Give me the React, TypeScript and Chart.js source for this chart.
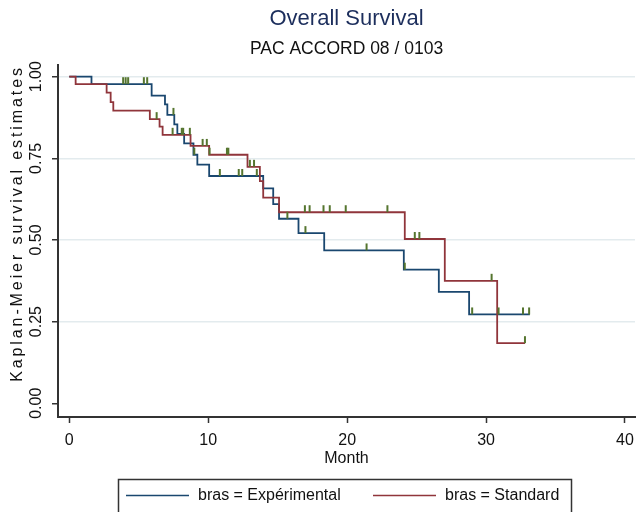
import React, { useEffect, useRef } from "react";
import { Chart, registerables } from "chart.js";

Chart.register(...registerables);

const FONT = "'Liberation Sans', Arial, sans-serif";

// Axis ticks
const xTicks = [0, 10, 20, 30, 40];
const yTicks = [0, 0.25, 0.5, 0.75, 1.0];

// Series labels
const expLabel = "bras = Expérimental";
const stdLabel = "bras = Standard";

// Expérimental arm (Kaplan-Meier step points: time at which survival changes)
const expTimes = [0, 1.6, 5.93, 6.89, 7.06, 7.56, 7.78, 8.27, 8.94, 9.22, 10.07, 13.96, 14.68, 15.1, 16.5, 18.35, 24.08, 26.6, 28.78];
const expSurv = [1.0, 0.977, 0.942, 0.915, 0.883, 0.854, 0.825, 0.796, 0.761, 0.731, 0.696, 0.658, 0.61, 0.565, 0.521, 0.468, 0.409, 0.341, 0.272];
const expEnd = 33.15;
const expCensor = [3.88, 4.06, 4.24, 5.37, 5.61, 7.5, 9.0, 10.84, 12.2, 12.45, 13.5, 15.7, 17.0, 21.4, 24.15, 29.0, 30.9, 32.66, 33.1];

// Standard arm
const stdTimes = [0, 0.46, 2.69, 2.98, 3.17, 5.8, 6.5, 6.72, 8.73, 10.07, 12.83, 13.72, 13.96, 15.1, 24.15, 27.03, 30.8];
const stdSurv = [1.0, 0.977, 0.951, 0.922, 0.896, 0.87, 0.847, 0.822, 0.788, 0.761, 0.724, 0.68, 0.63, 0.585, 0.503, 0.375, 0.184];
const stdEnd = 32.8;
const stdCensor = [6.29, 7.44, 8.1, 8.2, 8.68, 9.6, 9.9, 10.1, 11.35, 11.45, 13.0, 13.3, 16.96, 17.3, 18.3, 18.75, 19.9, 22.9, 24.87, 25.2, 30.4, 32.8];

const BLUE = "#1a476f";
const RED = "#90353b";
const GREEN = "#55752f";

function stepPoints(times: number[], surv: number[], end: number) {
  const pts = times.map((t, i) => ({ x: t, y: surv[i] }));
  pts.push({ x: end, y: surv[surv.length - 1] });
  return pts;
}

function survAt(times: number[], surv: number[], t: number) {
  let s = surv[0];
  for (let i = 0; i < times.length; i++) if (times[i] <= t) s = surv[i];
  return s;
}

const censorPlugin = {
  id: "censorTicks",
  afterDatasetsDraw(chart: any) {
    const { ctx, scales } = chart;
    const xs = scales.x;
    const ys = scales.y;
    const groups = [
      { times: expTimes, surv: expSurv, cens: expCensor },
      { times: stdTimes, surv: stdSurv, cens: stdCensor },
    ];
    ctx.save();
    ctx.strokeStyle = GREEN;
    ctx.lineWidth = 2;
    groups.forEach((g) => {
      g.cens.forEach((t) => {
        const px = xs.getPixelForValue(t);
        const py = ys.getPixelForValue(survAt(g.times, g.surv, t));
        ctx.beginPath();
        ctx.moveTo(px, py);
        ctx.lineTo(px, py - 7);
        ctx.stroke();
      });
    });
    ctx.restore();
  },
};

const decorPlugin = {
  id: "decor",
  afterDraw(chart: any) {
    const { ctx } = chart;
    ctx.save();
    // Y axis title with letter spacing
    ctx.fillStyle = "#111";
    ctx.font = `16px ${FONT}`;
    (ctx as any).letterSpacing = "2.9px";
    ctx.translate(18, 223.5);
    ctx.rotate(-Math.PI / 2);
    ctx.textAlign = "center";
    ctx.textBaseline = "middle";
    ctx.fillText("Kaplan-Meier survival estimates", 0, 0);
    ctx.restore();

    // Legend box
    ctx.save();
    ctx.strokeStyle = "#333";
    ctx.lineWidth = 1.5;
    ctx.strokeRect(118.5, 479.5, 453, 60);
    const items = [
      { ds: 0, x: 126 },
      { ds: 1, x: 373 },
    ];
    items.forEach((it) => {
      const ds = chart.data.datasets[it.ds];
      ctx.strokeStyle = ds.borderColor;
      ctx.lineWidth = 1.5;
      ctx.beginPath();
      ctx.moveTo(it.x, 495.5);
      ctx.lineTo(it.x + 63, 495.5);
      ctx.stroke();
      ctx.fillStyle = "#111";
      ctx.font = `16px ${FONT}`;
      ctx.textAlign = "left";
      ctx.textBaseline = "middle";
      ctx.fillText(ds.label, it.x + 72, 495.5);
    });
    ctx.restore();
  },
};

export default function App() {
  const ref = useRef<HTMLCanvasElement | null>(null);

  useEffect(() => {
    if (!ref.current) return;
    Chart.defaults.font.family = FONT;
    const chart = new Chart(ref.current, {
      type: "line",
      data: {
        datasets: [
          {
            label: expLabel,
            data: stepPoints(expTimes, expSurv, expEnd),
            borderColor: BLUE,
            backgroundColor: BLUE,
            borderWidth: 1.8,
            pointRadius: 0,
            stepped: true,
            fill: false,
            order: 1,
          },
          {
            label: stdLabel,
            data: stepPoints(stdTimes, stdSurv, stdEnd),
            borderColor: RED,
            backgroundColor: RED,
            borderWidth: 1.8,
            pointRadius: 0,
            stepped: true,
            fill: false,
            order: 0,
          },
        ],
      },
      options: {
        animation: false,
        responsive: false,
        maintainAspectRatio: false,
        events: [],
        layout: { padding: { left: 0, right: 1, top: 0, bottom: 40 } },
        plugins: {
          legend: { display: false },
          tooltip: { enabled: false },
          title: {
            display: true,
            fullSize: false,
            text: "Overall Survival",
            color: "#1c2e5c",
            font: { size: 22, weight: "normal", family: FONT },
            padding: { top: 5.8, bottom: 0 },
          },
          subtitle: {
            display: true,
            fullSize: false,
            text: "PAC ACCORD 08 / 0103",
            color: "#111",
            font: { size: 17.5, weight: "normal", family: FONT },
            padding: { top: 6.3, bottom: 5.5 },
          },
        },
        scales: {
          x: {
            type: "linear",
            min: -0.81,
            max: 40.72,
            afterBuildTicks: (s: any) => {
              s.ticks = xTicks.map((v) => ({ value: v }));
            },
            afterFit: (s: any) => {
              s.height = 55;
              s.paddingLeft = 0;
              s.paddingRight = 0;
            },
            ticks: {
              color: "#111",
              font: { size: 16, family: FONT },
              padding: 8,
              maxRotation: 0,
              autoSkip: false,
            },
            grid: {
              drawOnChartArea: false,
              drawTicks: true,
              tickLength: 6,
              tickColor: "#333",
              tickWidth: 1.5,
            },
            border: { display: true, color: "#333", width: 2 },
            title: {
              display: true,
              text: "Month",
              color: "#111",
              font: { size: 16, family: FONT },
              padding: { top: 0, bottom: 3.4 },
            },
          },
          y: {
            type: "linear",
            min: -0.042,
            max: 1.0358,
            afterBuildTicks: (s: any) => {
              s.ticks = yTicks.map((v) => ({ value: v }));
            },
            afterFit: (s: any) => {
              s.width = 58;
              s.paddingTop = 0;
              s.paddingBottom = 0;
            },
            ticks: {
              color: "#111",
              font: { size: 16, family: FONT },
              minRotation: 90,
              maxRotation: 90,
              crossAlign: "center",
              padding: 0,
              callback: (v: any) => Number(v).toFixed(2),
            },
            grid: {
              color: (c: any) => (c.tick && c.tick.value > 0 ? "#e3ebee" : "rgba(0,0,0,0)"),
              lineWidth: 1.5,
              drawTicks: true,
              tickLength: 6,
              tickColor: "#333",
              tickWidth: 1.5,
            },
            border: { display: true, color: "#333", width: 2 },
          },
        },
      },
      plugins: [censorPlugin, decorPlugin],
    } as any);
    return () => chart.destroy();
  }, []);

  return (
    <div style={{ position: "fixed", left: 0, top: 0, width: 636, height: 512, background: "#fff" }}>
      <canvas ref={ref} width={636} height={512} style={{ display: "block" }} />
    </div>
  );
}
